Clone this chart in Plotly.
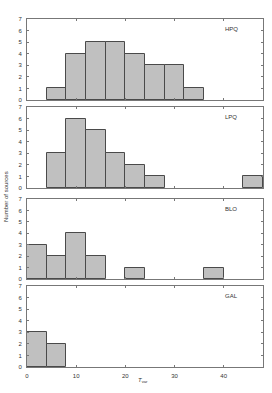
import plotly.graph_objects as go

bin_edges = [0, 4, 8, 12, 16, 20, 24, 28, 32, 36, 40, 44, 48]
panel_names = ["HPQ", "LPQ", "BLO", "GAL"]
hpq_counts = [0, 1, 4, 5, 5, 4, 3, 3, 1, 0, 0, 0]
lpq_counts = [0, 3, 6, 5, 3, 2, 1, 0, 0, 0, 0, 1]
blo_counts = [3, 2, 4, 2, 0, 1, 0, 0, 0, 1, 0, 0]
gal_counts = [3, 2, 0, 0, 0, 0, 0, 0, 0, 0, 0, 0]
x_ticks = [0, 10, 20, 30, 40]
y_ticks = [0, 1, 2, 3, 4, 5, 6, 7]

all_counts = [hpq_counts, lpq_counts, blo_counts, gal_counts]
centers = [(a + b) / 2 for a, b in zip(bin_edges[:-1], bin_edges[1:])]
widths = [b - a for a, b in zip(bin_edges[:-1], bin_edges[1:])]

W, H = 272, 393
ML, MR, MT, MB = 27, 9, 19, 26
PH = H - MT - MB
PW = W - ML - MR
# panel pixel extents (top, bottom) in window coords
panels_px = [(19, 100), (107, 188), (199, 279), (286, 367)]

def py(y):
    return (H - MB - y) / PH

def px(x):
    return (x - ML) / PW

fig = go.Figure()
font = dict(family="Liberation Sans, Arial, sans-serif", size=6, color="#333333")
frame = "#777777"

for i, (name, counts) in enumerate(zip(panel_names, all_counts)):
    idx = "" if i == 0 else str(i + 1)
    xs = [c for c, v in zip(centers, counts) if v > 0]
    ys = [v for v in counts if v > 0]
    ws = [w for w, v in zip(widths, counts) if v > 0]
    fig.add_trace(go.Bar(
        x=xs, y=ys, width=ws,
        marker=dict(color="#c0c0c0", line=dict(color="#4a4a4a", width=1)),
        xaxis="x" + idx, yaxis="y" + idx, showlegend=False,
    ))
    top, bot = panels_px[i]
    dom = [max(0, py(bot)), min(1, py(top))]
    fig.layout["yaxis" + idx] = dict(
        domain=dom, range=[0, 7], tickvals=y_ticks, ticks="inside", ticklen=2,
        tickcolor=frame, showline=True, linecolor=frame, linewidth=1,
        mirror="ticks", showgrid=False, zeroline=False, tickfont=font,
        anchor="x" + idx, fixedrange=True, automargin=False, ticklabelstandoff=3,
    )
    fig.layout["xaxis" + idx] = dict(
        domain=[0, 1], range=[0, 48], tickvals=x_ticks, ticks="inside", ticklen=2,
        tickcolor=frame, showline=True, linecolor=frame, linewidth=1,
        mirror="ticks", showgrid=False, zeroline=False, tickfont=font,
        showticklabels=(i == 3), anchor="y" + idx, automargin=False,
        matches=None if i == 0 else "x", ticklabelstandoff=3,
    )
    fig.add_annotation(
        text=name, x=41.5, y=6.1, xref="x" + idx, yref="y" + idx,
        showarrow=False, font=font, xanchor="center", yanchor="middle",
    )

fig.add_annotation(
    text="Number of sources", x=px(6), y=py(197),
    xref="paper", yref="paper",
    textangle=-90, showarrow=False, font=font, xanchor="center", yanchor="middle",
)
fig.add_annotation(
    text="<i>T</i><sub>var</sub>", x=px(143), y=py(380), xref="paper", yref="paper",
    showarrow=False, font=font, xanchor="center", yanchor="middle",
)

fig.update_layout(
    width=W, height=H, margin=dict(l=ML, r=MR, t=MT, b=MB, autoexpand=False),
    plot_bgcolor="white", paper_bgcolor="white", bargap=0,
)
fig.write_html(
    "out.html",
    config={"displayModeBar": False},
    post_script="document.body.style.margin='0';document.body.style.overflow='hidden';",
)
